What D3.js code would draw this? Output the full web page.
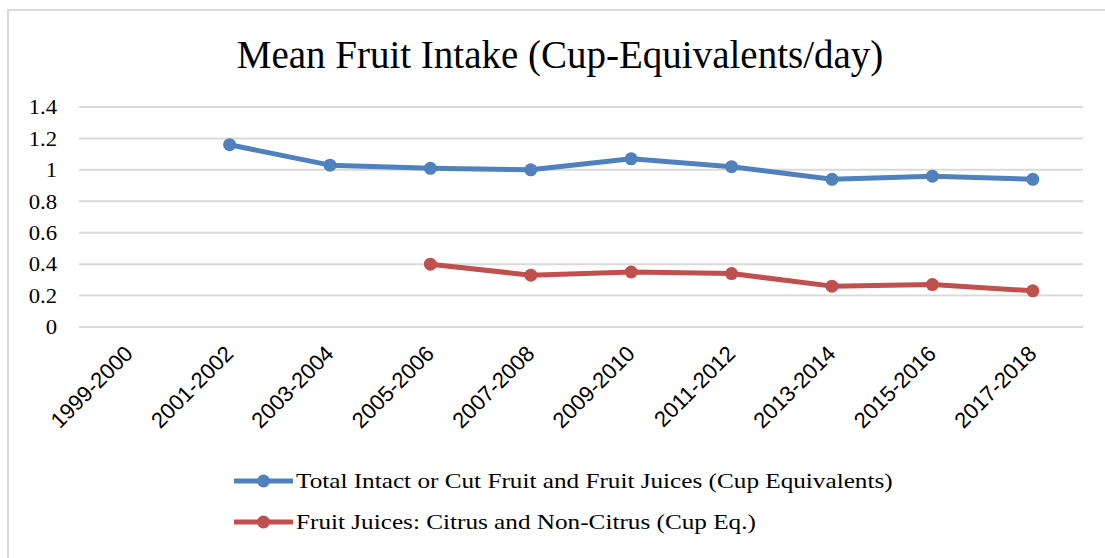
<!DOCTYPE html>
<html>
<head>
<meta charset="utf-8">
<script src="https://cdn.jsdelivr.net/npm/d3@7"></script>
<style>
  html, body { margin: 0; padding: 0; background: #fff; }
  svg { display: block; }
  .grid line { stroke: #d9d9d9; stroke-width: 2; }
</style>
</head>
<body>
<svg id="chart" width="1105" height="558"></svg>
<script>
// survey cycles
const cycles = ["1999-2000","2001-2002","2003-2004","2005-2006","2007-2008",
                "2009-2010","2011-2012","2013-2014","2015-2016","2017-2018"];

// Total intact or cut fruit and fruit juices (cup eq./day)
const totalFruit = [null, 1.16, 1.03, 1.01, 1.00, 1.07, 1.02, 0.94, 0.96, 0.94];

// Fruit juices: citrus and non-citrus (cup eq./day)
const fruitJuice = [null, null, null, 0.40, 0.33, 0.35, 0.34, 0.26, 0.27, 0.23];

const yTicks = [0, 0.2, 0.4, 0.6, 0.8, 1, 1.2, 1.4];

const seriesNames = [
  "Total Intact or Cut Fruit and Fruit Juices (Cup Equivalents)",
  "Fruit Juices: Citrus and Non-Citrus (Cup Eq.)"
];
const seriesColors = ["#4f81bd", "#c0504d"];

(function(){
  const svg = d3.select('#chart');
  const serif = '"Liberation Serif", "DejaVu Serif", serif';
  const sans = '"Liberation Sans", Arial, sans-serif';

  // the original font (Cambria-like) is a bit wider than Liberation Serif
  function stretch(k){
    return sel => sel.each(function(){
      const w = this.getComputedTextLength();
      d3.select(this)
        .attr('textLength', w * k)
        .attr('lengthAdjust', 'spacingAndGlyphs');
    });
  }

  // chart frame
  svg.append('rect')
    .attr('x', 8).attr('y', 10)
    .attr('width', 1120).attr('height', 570)
    .attr('fill', '#fff')
    .attr('stroke', '#d9d9d9').attr('stroke-width', 2);

  const plot = { left: 79, right: 1083, top: 107, bottom: 327 };

  const x = d3.scaleBand()
    .domain(cycles)
    .range([plot.left, plot.right]);

  const y = d3.scaleLinear()
    .domain([0, 1.4])
    .range([plot.bottom, plot.top]);

  // title
  svg.append('text')
    .attr('x', 560).attr('y', 68)
    .attr('text-anchor', 'middle')
    .style('font-family', serif)
    .style('font-size', '39px')
    .attr('fill', '#000')
    .text('Mean Fruit Intake (Cup-Equivalents/day)');

  // horizontal gridlines
  svg.append('g').attr('class', 'grid')
    .selectAll('line')
    .data(yTicks)
    .join('line')
    .attr('x1', plot.left).attr('x2', plot.right)
    .attr('y1', d => y(d)).attr('y2', d => y(d));

  // y axis labels
  const yAxis = d3.axisLeft(y)
    .tickValues(yTicks)
    .tickSize(0)
    .tickPadding(22)
    .tickFormat(d3.format('~g'));
  const gy = svg.append('g')
    .attr('transform', `translate(${plot.left},0)`)
    .call(yAxis);
  gy.select('.domain').remove();
  gy.selectAll('text')
    .style('font-family', serif)
    .style('font-size', '21px')
    .attr('fill', '#000')
    .call(stretch(1.08));

  // x axis labels, rotated
  const xAxis = d3.axisBottom(x).tickSize(0).tickPadding(0);
  const gx = svg.append('g')
    .attr('transform', `translate(0,${plot.bottom})`)
    .call(xAxis);
  gx.select('.domain').remove();
  gx.selectAll('text')
    .style('font-family', sans)
    .style('font-size', '22px')
    .attr('fill', '#000')
    .attr('text-anchor', 'end')
    .attr('dy', 0)
    .attr('transform', 'translate(5,28) rotate(-45)');

  // lines + markers
  const cx = d => x(d) + x.bandwidth() / 2;
  [totalFruit, fruitJuice].forEach((vals, i) => {
    const pts = cycles.map((c, j) => ({ c, v: vals[j] }));
    const line = d3.line()
      .defined(d => d.v != null)
      .x(d => cx(d.c))
      .y(d => y(d.v));

    svg.append('path')
      .datum(pts)
      .attr('fill', 'none')
      .attr('stroke', seriesColors[i])
      .attr('stroke-width', 5)
      .attr('stroke-linejoin', 'round')
      .attr('d', line);

    svg.append('g')
      .selectAll('circle')
      .data(pts.filter(d => d.v != null))
      .join('circle')
      .attr('cx', d => cx(d.c))
      .attr('cy', d => y(d.v))
      .attr('r', 6.5)
      .attr('fill', seriesColors[i]);
  });

  // legend
  const leg = svg.append('g')
    .selectAll('g')
    .data(seriesNames)
    .join('g')
    .attr('transform', (d, i) => `translate(234,${481 + i * 41})`);
  leg.append('line')
    .attr('x1', 0).attr('x2', 59)
    .attr('stroke', (d, i) => seriesColors[i])
    .attr('stroke-width', 5);
  leg.append('circle')
    .attr('cx', 29.5).attr('r', 6.5)
    .attr('fill', (d, i) => seriesColors[i]);
  leg.append('text')
    .attr('x', 62).attr('y', 7)
    .style('font-family', serif)
    .style('font-size', '21px')
    .attr('fill', '#000')
    .text(d => d)
    .call(stretch(1.2));
})();
</script>
</body>
</html>
